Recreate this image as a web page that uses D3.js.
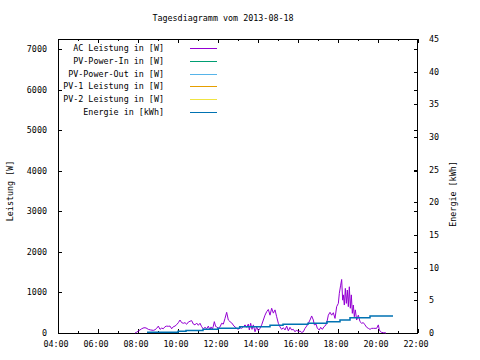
<!DOCTYPE html>
<html><head><meta charset="utf-8">
<script src="https://cdn.jsdelivr.net/npm/d3@7"></script>
<style>
html,body{margin:0;padding:0;background:#fff;}
text{font-family:"DejaVu Sans Mono",monospace;font-size:8.4px;fill:#000;}
</style></head>
<body><svg id="c" width="480" height="360"></svg>
<script>
const title = "Tagesdiagramm vom 2013-08-18";
const yLeftLabel = "Leistung [W]";
const yRightLabel = "Energie [kWh]";
const xTickLabels = ["04:00","06:00","08:00","10:00","12:00","14:00","16:00","18:00","20:00","22:00"];
const yLeftTicks = [0,1000,2000,3000,4000,5000,6000,7000];
const yRightTicks = [0,5,10,15,20,25,30,35,40,45];
const legendLabels = ["AC Leistung in [W]","PV-Power-In in [W]","PV-Power-Out in [W]","PV-1 Leistung in [W]","PV-2 Leistung in [W]","Energie in [kWh]"];
const legendColors = ["#9400d3","#009e73","#56b4e9","#e69f00","#f0e442","#0072b2"];

const acTime = ["07:51","07:56","08:01","08:06","08:11","08:18","08:24","08:31","08:38","08:46","08:51","08:56",
"09:01","09:06","09:11","09:16","09:21","09:26","09:31","09:36","09:41","09:46","09:51","09:56",
"10:01","10:06","10:11","10:16","10:21","10:26","10:31","10:36","10:41","10:46","10:51","10:56",
"11:01","11:06","11:11","11:16","11:21","11:26","11:31","11:36","11:39","11:43","11:46","11:49","11:53","11:56",
"12:01","12:06","12:11","12:16","12:21","12:26","12:31","12:36","12:41","12:48","12:56",
"13:01","13:06","13:11","13:16","13:21","13:26","13:31","13:34","13:38","13:42","13:46","13:51","13:56",
"14:01","14:06","14:11","14:16","14:21","14:26","14:31","14:36","14:41","14:46","14:51","14:56",
"15:01","15:06","15:11","15:16","15:21","15:26","15:31","15:36","15:41","15:46","15:51","15:56",
"16:01","16:06","16:11","16:16","16:21","16:26","16:31","16:36","16:41","16:46","16:49","16:54","16:58",
"17:04","17:08","17:13","17:18","17:24","17:28","17:31","17:36","17:41","17:46","17:51","17:56",
"18:01","18:04","18:08","18:11","18:14","18:16","18:19","18:22","18:25","18:28","18:31","18:34","18:37","18:40","18:43","18:46","18:49","18:52","18:56",
"19:01","19:06","19:11","19:16","19:21","19:26","19:31","19:36","19:41","19:46","19:51","19:56",
"20:01","20:04","20:08","20:11","20:16","20:21","20:24"];
const acPower = [0,20,50,75,105,130,125,90,75,65,80,115,
170,90,120,105,155,170,165,170,105,155,170,205,
255,320,255,240,255,215,270,290,305,220,200,245,
190,240,155,100,140,105,170,75,150,90,170,280,160,150,
120,150,240,220,360,510,320,280,250,170,115,
90,140,115,150,200,140,220,75,240,90,200,30,150,
55,115,200,320,440,525,580,440,610,490,570,400,
240,150,90,130,75,170,55,140,75,90,30,75,
30,50,15,30,115,170,240,320,420,320,200,220,115,
75,140,90,155,200,320,440,510,440,500,360,650,
730,980,1180,1320,810,940,690,1100,730,1060,650,1140,610,940,485,690,400,570,320,
440,280,240,255,200,140,115,90,115,115,115,115,
200,75,30,15,8,5,0];

const energyTime = ["08:27","10:00","10:24","11:15","12:00","13:05","14:36","15:15","16:30","17:27","18:06","18:36","19:36","20:45"];
const energyKWh  = [0.10,0.25,0.40,0.57,0.72,0.95,1.20,1.35,1.50,1.72,2.00,2.35,2.60,2.60];

const hrs = s => { const [h,m] = s.split(":").map(Number); return h + m/60; };

const svg = d3.select("#c");
const L = 58, R = 418, T = 39, B = 333;
const x = d3.scaleLinear().domain([4,22]).range([L,R]);
const y1 = d3.scaleLinear().domain([0,7250]).range([B,T]);
const y2 = d3.scaleLinear().domain([0,45]).range([B,T]);

// border
svg.append("rect").attr("x",L+0.5).attr("y",T+0.5).attr("width",R-L-1).attr("height",B-T)
  .attr("fill","none").attr("stroke","#000").attr("stroke-width",1);

const g = svg.append("g");
// x ticks (major 2h, minor 1h) bottom + top
d3.range(4,23,1).forEach(h => {
  const len = (h % 2 === 0) ? 4 : 2;
  const px = Math.round(x(h)) + 0.5;
  g.append("line").attr("x1",px).attr("x2",px).attr("y1",B).attr("y2",B-len).attr("stroke","#000");
  g.append("line").attr("x1",px).attr("x2",px).attr("y1",T).attr("y2",T+len).attr("stroke","#000");
});
xTickLabels.forEach(lbl => {
  svg.append("text").attr("x",x(hrs(lbl))-2).attr("y",347).attr("text-anchor","middle").text(lbl);
});
// left ticks and mirror
yLeftTicks.forEach(v => {
  const py = Math.round(y1(v)) + 0.5;
  if (v > 0) {
    g.append("line").attr("x1",L).attr("x2",L+4).attr("y1",py).attr("y2",py).attr("stroke","#000");
    g.append("line").attr("x1",R).attr("x2",R-4).attr("y1",py).attr("y2",py).attr("stroke","#000");
  }
  svg.append("text").attr("x",47).attr("y",y1(v)+3).attr("text-anchor","end").text(v);
});
// right ticks
yRightTicks.forEach(v => {
  const py = Math.round(y2(v)) + 0.5;
  if (v > 0 && v < 45) g.append("line").attr("x1",R).attr("x2",R-4).attr("y1",py).attr("y2",py).attr("stroke","#000");
  svg.append("text").attr("x",429).attr("y",y2(v)+3).attr("text-anchor","start").text(v);
});

// title and axis labels
svg.append("text").attr("x",223).attr("y",21).attr("text-anchor","middle").text(title);
svg.append("text").attr("transform","translate(13,191) rotate(-90)").attr("text-anchor","middle").text(yLeftLabel);
svg.append("text").attr("transform","translate(456,194) rotate(-90)").attr("text-anchor","middle").text(yRightLabel);

// legend
legendLabels.forEach((lbl,i) => {
  const ly = 48 + i*12.8;
  svg.append("text").attr("x",164).attr("y",ly+3).attr("text-anchor","end").text(lbl);
  svg.append("line").attr("x1",190).attr("x2",217).attr("y1",Math.round(ly)+0.5).attr("y2",Math.round(ly)+0.5)
    .attr("stroke",legendColors[i]).attr("stroke-width",1);
});

// AC line
const acData = acTime.map((t,i) => [hrs(t), acPower[i]]);
svg.append("path").datum(acData)
  .attr("d", d3.line().x(d => x(d[0])).y(d => y1(d[1])))
  .attr("fill","none").attr("stroke",legendColors[0]).attr("stroke-width",1);

// Energy step line
const enData = energyTime.map((t,i) => [hrs(t), energyKWh[i]]);
svg.append("path").datum(enData)
  .attr("d", d3.line().curve(d3.curveStepAfter).x(d => x(d[0])).y(d => y2(d[1])))
  .attr("fill","none").attr("stroke",legendColors[5]).attr("stroke-width",1.5);
</script></body></html>
